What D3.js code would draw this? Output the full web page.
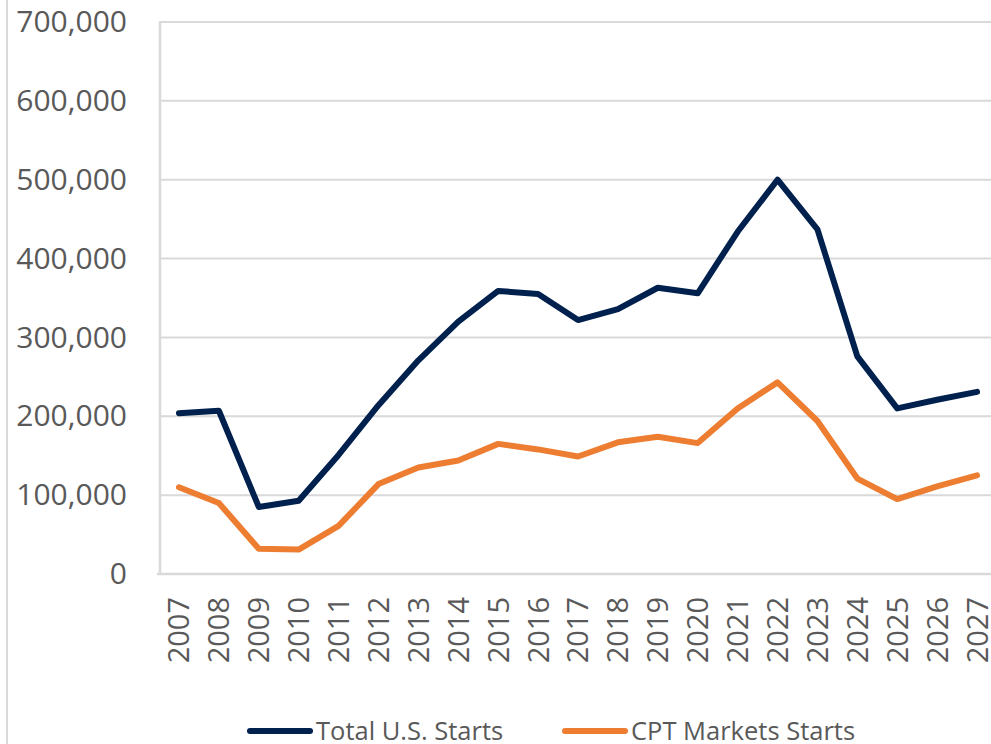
<!DOCTYPE html>
<html>
<head>
<meta charset="utf-8">
<script src="https://cdn.jsdelivr.net/npm/d3@7"></script>
<style>
  html, body { margin: 0; padding: 0; background: #fff; }
  svg { display: block; font-family: "Open Sans", sans-serif; }
</style>
</head>
<body>
<svg width="991" height="744"></svg>
<script>
// chart data
var years = ["2007", "2008", "2009", "2010", "2011", "2012", "2013", "2014", "2015", "2016", "2017",
             "2018", "2019", "2020", "2021", "2022", "2023", "2024", "2025", "2026", "2027"];
var totalStarts = [204000, 207000, 85000, 93000, 151000, 214000, 271000, 320000, 359000, 355000, 322000,
                   336000, 363000, 356000, 434000, 500000, 437000, 276000, 210000, 221000, 231000];
var cptStarts = [110000, 90000, 32000, 31000, 61000, 114000, 135000, 144000, 165000, 158000, 149000,
                 167000, 174000, 166000, 210000, 243000, 194000, 121000, 95000, 111000, 125000];
var yTicks = [0, 100000, 200000, 300000, 400000, 500000, 600000, 700000];
var seriesNames = ["Total U.S. Starts", "CPT Markets Starts"];
var seriesColors = ["#00204e", "#ed7d31"];

var svg = d3.select("svg");
var plot = {left: 159, right: 997, top: 22, bottom: 574};
var gridColor = "#d9d9d9";
var textColor = "#595959";

var x = d3.scaleBand().domain(years).range([plot.left, plot.right]);
var y = d3.scaleLinear().domain([0, 700000]).range([plot.bottom, plot.top]);

// outer chart border (left edge only visible)
svg.append("line")
    .attr("x1", 7).attr("x2", 7).attr("y1", 0).attr("y2", 744)
    .attr("stroke", gridColor).attr("stroke-width", 2);

// gridlines
svg.append("g").selectAll("line")
    .data(yTicks.slice(1))
    .enter().append("line")
    .attr("x1", plot.left + 1).attr("x2", 991)
    .attr("y1", function(d) { return y(d); })
    .attr("y2", function(d) { return y(d); })
    .attr("stroke", gridColor).attr("stroke-width", 2);

// axis lines
svg.append("line")
    .attr("x1", plot.left + 1).attr("x2", plot.left + 1)
    .attr("y1", plot.top - 1).attr("y2", plot.bottom + 1)
    .attr("stroke", gridColor).attr("stroke-width", 2.5);
svg.append("line")
    .attr("x1", plot.left - 2).attr("x2", 991)
    .attr("y1", plot.bottom).attr("y2", plot.bottom)
    .attr("stroke", gridColor).attr("stroke-width", 2.5);

// y axis labels
var yAxis = svg.append("g")
    .attr("transform", "translate(" + plot.left + ",0)")
    .call(d3.axisLeft(y).tickValues(yTicks).tickSize(0).tickPadding(32).tickFormat(d3.format(",")));
yAxis.select(".domain").remove();
yAxis.selectAll("text")
    .attr("fill", textColor)
    .style("font-size", "30px")
    .style("font-family", "'Open Sans', sans-serif");

// x axis labels (rotated)
var xAxis = svg.append("g")
    .attr("transform", "translate(0," + plot.bottom + ")")
    .call(d3.axisBottom(x).tickSize(0));
xAxis.select(".domain").remove();
xAxis.selectAll("text")
    .attr("transform", "rotate(-90)")
    .attr("x", -23)
    .attr("y", 0)
    .attr("dy", "0.36em")
    .style("text-anchor", "end")
    .attr("fill", textColor)
    .style("font-size", "29px")
    .style("font-family", "'Open Sans', sans-serif");

// lines
var line = d3.line()
    .x(function(d, i) { return x(years[i]) + x.bandwidth() / 2; })
    .y(function(d) { return y(d); });

[totalStarts, cptStarts].forEach(function(values, i) {
    svg.append("path")
        .datum(values)
        .attr("fill", "none")
        .attr("stroke", seriesColors[i])
        .attr("stroke-width", 6)
        .attr("stroke-linejoin", "round")
        .attr("stroke-linecap", "round")
        .attr("d", line);
});

// legend
var legendItems = [{x: 250}, {x: 565}];
legendItems.forEach(function(item, i) {
    var g = svg.append("g").attr("transform", "translate(" + item.x + ",731)");
    g.append("line")
        .attr("x1", 0).attr("x2", 60).attr("y1", 0).attr("y2", 0)
        .attr("stroke", seriesColors[i]).attr("stroke-width", 6)
        .attr("stroke-linecap", "round");
    g.append("text")
        .attr("x", 66).attr("y", 9)
        .attr("fill", textColor)
        .style("font-size", "25.5px")
        .text(seriesNames[i]);
});
</script>
</body>
</html>
